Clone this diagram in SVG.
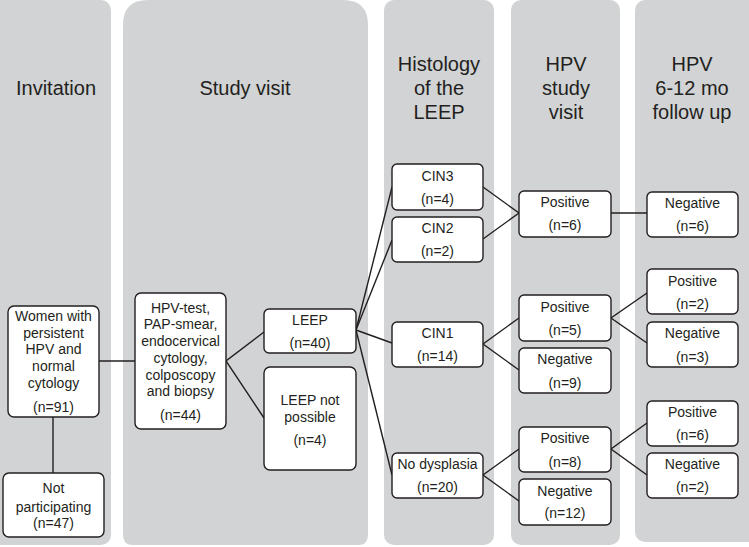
<svg xmlns="http://www.w3.org/2000/svg" width="749" height="547" viewBox="0 0 749 547">
<style>
.panel{fill:#d1d3d4}
.box{fill:#fff;stroke:#231f20;stroke-width:1.4}
.t{font-family:"Liberation Sans","Open Sans",Arial,sans-serif;font-size:14px;fill:#231f20;text-anchor:middle}
.h{font-family:"Liberation Sans","Open Sans",Arial,sans-serif;font-size:20px;fill:#231f20;text-anchor:middle}
.c{stroke:#231f20;stroke-width:1.4;fill:none}
</style>
<rect width="749" height="547" fill="#fff"/>
<g id="panels">
<rect class="panel" x="-15" y="0" width="126" height="545" rx="10"/>
<path class="panel" d="M123,25 Q123,0 148,0 H343 Q368,0 368,25 V535 Q368,545 358,545 H133 Q123,545 123,535 Z"/>
<rect class="panel" x="384" y="0" width="110" height="545" rx="10"/>
<rect class="panel" x="511" y="0" width="109" height="545" rx="10"/>
<rect class="panel" x="635" y="0" width="130" height="542" rx="10"/>
<text class="h" x="56" y="95">Invitation</text>
<text class="h" x="245" y="95">Study visit</text>
<text class="h" x="439" y="71">Histology</text>
<text class="h" x="439" y="95">of the</text>
<text class="h" x="439" y="119">LEEP</text>
<text class="h" x="566" y="71">HPV</text>
<text class="h" x="566" y="95">study</text>
<text class="h" x="566" y="119">visit</text>
<text class="h" x="692" y="71">HPV</text>
<text class="h" x="692" y="95">6-12 mo</text>
<text class="h" x="692" y="119">follow up</text>
</g>
<g id="connectors">
<line class="c" x1="53" y1="417" x2="53" y2="473"/>
<line class="c" x1="99" y1="361" x2="135" y2="361"/>
<polyline class="c" points="264,332 226,361 264,418"/>
<line class="c" x1="356" y1="330" x2="392" y2="187"/>
<line class="c" x1="356" y1="330" x2="392" y2="240"/>
<line class="c" x1="356" y1="330" x2="392" y2="343"/>
<line class="c" x1="356" y1="330" x2="392" y2="475"/>
<polyline class="c" points="483,187 519,213 483,239"/>
<line class="c" x1="611" y1="213" x2="647" y2="213"/>
<polyline class="c" points="519,318 483,344 519,370"/>
<polyline class="c" points="647,293 611,318 647,343"/>
<polyline class="c" points="519,449 483,475 519,501"/>
<polyline class="c" points="647,423 611,449 647,475"/>
</g>
<g id="women"><rect class="box" x="8" y="306" width="91" height="111" rx="6"/>
<text class="t" x="53.5" y="321">Women with</text><text class="t" x="53.5" y="338">persistent</text><text class="t" x="53.5" y="354">HPV and</text><text class="t" x="53.5" y="371">normal</text><text class="t" x="53.5" y="388">cytology</text><text class="t" x="53.5" y="412">(n=91)</text></g>
<g id="notpart"><rect class="box" x="3" y="473" width="101" height="64" rx="6"/>
<text class="t" x="53.5" y="493">Not</text><text class="t" x="53.5" y="512">participating</text><text class="t" x="53.5" y="528">(n=47)</text></g>
<g id="hpvtest"><rect class="box" x="135" y="293" width="91" height="136" rx="6"/>
<text class="t" x="180.5" y="313">HPV-test,</text><text class="t" x="180.5" y="329">PAP-smear,</text><text class="t" x="180.5" y="346">endocervical</text><text class="t" x="180.5" y="363">cytology,</text><text class="t" x="180.5" y="380">colposcopy</text><text class="t" x="180.5" y="396">and biopsy</text><text class="t" x="180.5" y="420">(n=44)</text></g>
<g id="leep"><rect class="box" x="264" y="309" width="92" height="44" rx="5"/>
<text class="t" x="310" y="325">LEEP</text><text class="t" x="310" y="348">(n=40)</text></g>
<g id="leepnot"><rect class="box" x="264" y="367" width="92" height="103" rx="6"/>
<text class="t" x="310" y="405">LEEP not</text><text class="t" x="310" y="422">possible</text><text class="t" x="310" y="445">(n=4)</text></g>
<g id="cin3"><rect class="box" x="392" y="164" width="91" height="46" rx="5"/>
<text class="t" x="437.5" y="181">CIN3</text><text class="t" x="437.5" y="204">(n=4)</text></g>
<g id="cin2"><rect class="box" x="392" y="217" width="91" height="45" rx="5"/>
<text class="t" x="437.5" y="233">CIN2</text><text class="t" x="437.5" y="256">(n=2)</text></g>
<g id="cin1"><rect class="box" x="392" y="322" width="91" height="45" rx="5"/>
<text class="t" x="437.5" y="338">CIN1</text><text class="t" x="437.5" y="361">(n=14)</text></g>
<g id="nodys"><rect class="box" x="392" y="453" width="91" height="45" rx="5"/>
<text class="t" x="437.5" y="469">No dysplasia</text><text class="t" x="437.5" y="492">(n=20)</text></g>
<g id="pos6"><rect class="box" x="519" y="191" width="92" height="46" rx="5"/>
<text class="t" x="565" y="207">Positive</text><text class="t" x="565" y="230">(n=6)</text></g>
<g id="pos5"><rect class="box" x="519" y="295" width="92" height="46" rx="5"/>
<text class="t" x="565" y="312">Positive</text><text class="t" x="565" y="335">(n=5)</text></g>
<g id="neg9"><rect class="box" x="519" y="348" width="92" height="45" rx="5"/>
<text class="t" x="565" y="364">Negative</text><text class="t" x="565" y="388">(n=9)</text></g>
<g id="pos8"><rect class="box" x="519" y="427" width="92" height="45" rx="5"/>
<text class="t" x="565" y="443">Positive</text><text class="t" x="565" y="467">(n=8)</text></g>
<g id="neg12"><rect class="box" x="519" y="479" width="92" height="46" rx="5"/>
<text class="t" x="565" y="496">Negative</text><text class="t" x="565" y="518">(n=12)</text></g>
<g id="neg6"><rect class="box" x="647" y="192" width="91" height="45" rx="5"/>
<text class="t" x="692.5" y="208">Negative</text><text class="t" x="692.5" y="231">(n=6)</text></g>
<g id="pos2"><rect class="box" x="647" y="269" width="91" height="45" rx="5"/>
<text class="t" x="692.5" y="286">Positive</text><text class="t" x="692.5" y="309">(n=2)</text></g>
<g id="neg3"><rect class="box" x="647" y="322" width="91" height="45" rx="5"/>
<text class="t" x="692.5" y="338">Negative</text><text class="t" x="692.5" y="362">(n=3)</text></g>
<g id="pos6b"><rect class="box" x="647" y="401" width="91" height="45" rx="5"/>
<text class="t" x="692.5" y="417">Positive</text><text class="t" x="692.5" y="440">(n=6)</text></g>
<g id="neg2"><rect class="box" x="647" y="453" width="91" height="45" rx="5"/>
<text class="t" x="692.5" y="469">Negative</text><text class="t" x="692.5" y="492">(n=2)</text></g>
</svg>
